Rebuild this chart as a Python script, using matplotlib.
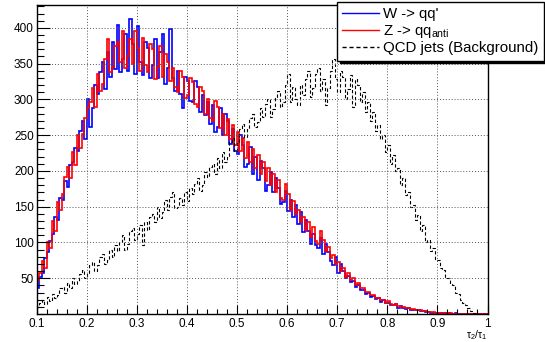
import numpy as np
import matplotlib
matplotlib.use("Agg")
import matplotlib.pyplot as plt
from matplotlib.ticker import MultipleLocator, FixedLocator

plt.rcParams['font.family'] = ['Liberation Sans', 'DejaVu Sans']
plt.rcParams['mathtext.fontset'] = 'custom'
plt.rcParams['mathtext.rm'] = 'Liberation Sans'
plt.rcParams['mathtext.it'] = 'Liberation Sans'

# tau2/tau1 histograms, 180 bins of width 0.005 between 0.1 and 1.0
edges = np.linspace(0.1, 1.0, 181)

w_counts = [
    36, 52, 58, 78, 86, 102, 112, 136, 132, 162,
    160, 186, 178, 208, 212, 232, 228, 256, 270, 244,
    300, 262, 288, 320, 308, 338, 352, 314, 366, 332,
    380, 342, 404, 338, 356, 392, 340, 412, 378, 336,
    402, 352, 334, 380, 372, 330, 348, 384, 330, 366,
    392, 322, 344, 398, 330, 312, 340, 308, 288, 332,
    326, 298, 296, 326, 318, 282, 306, 278, 296, 266,
    292, 254, 262, 288, 250, 280, 270, 238, 258, 228,
    224, 250, 236, 206, 210, 234, 196, 220, 188, 214,
    204, 172, 180, 198, 170, 190, 176, 154, 156, 172,
    144, 160, 136, 152, 126, 142, 114, 132, 116, 98,
    112, 96, 92, 106, 84, 98, 86, 74, 68, 80,
    58, 70, 60, 50, 53, 45, 46, 38, 40, 34,
    33, 28, 29, 24, 25, 21, 22, 17, 19, 15,
    16, 12, 12, 14, 9, 11, 9, 7, 8, 6,
    6, 5, 5, 4, 4, 3, 3, 2, 2, 2,
    2, 1, 1, 1, 1, 0, 0, 1, 0, 0,
    0, 0, 0, 0, 0, 0, 0, 0, 0, 0,
]

z_counts = [
    48, 58, 74, 64, 100, 92, 130, 116, 156, 146,
    168, 192, 206, 190, 226, 208, 250, 232, 252, 274,
    288, 296, 316, 290, 336, 312, 322, 356, 384, 338,
    346, 374, 380, 352, 396, 344, 360, 384, 350, 396,
    372, 340, 386, 348, 338, 378, 370, 328, 346, 374,
    332, 364, 352, 326, 344, 318, 310, 340, 332, 302,
    306, 330, 324, 294, 290, 318, 312, 280, 300, 274,
    270, 298, 290, 260, 280, 250, 272, 244, 264, 236,
    254, 228, 246, 218, 240, 212, 230, 204, 222, 196,
    212, 186, 204, 180, 196, 170, 188, 162, 160, 182,
    168, 146, 158, 140, 146, 128, 136, 118, 128, 108,
    122, 102, 98, 116, 104, 88, 94, 78, 82, 70,
    72, 60, 64, 52, 57, 47, 50, 40, 43, 36,
    37, 31, 31, 27, 27, 23, 23, 19, 20, 16,
    18, 14, 13, 14, 11, 10, 10, 8, 8, 7,
    7, 6, 5, 5, 4, 4, 3, 3, 3, 2,
    2, 1, 1, 1, 1, 1, 0, 0, 0, 0,
    0, 0, 0, 0, 0, 0, 0, 0, 0, 0,
]

qcd_counts = [
    10, 16, 20, 14, 24, 18, 28, 22, 26, 36,
    38, 30, 44, 36, 50, 42, 46, 56, 62, 50,
    58, 68, 72, 60, 68, 80, 84, 70, 76, 90,
    80, 96, 88, 100, 110, 90, 98, 116, 120, 104,
    112, 124, 96, 128, 118, 136, 140, 128, 150, 134,
    142, 160, 146, 164, 170, 148, 150, 162, 152, 170,
    158, 176, 168, 182, 190, 172, 180, 198, 192, 206,
    210, 196, 218, 204, 226, 212, 220, 240, 246, 228,
    240, 258, 266, 248, 258, 274, 280, 262, 268, 288,
    276, 294, 300, 276, 286, 304, 312, 290, 296, 320,
    336, 296, 318, 300, 292, 320, 306, 328, 340, 304,
    316, 336, 344, 312, 328, 292, 316, 340, 356, 328,
    310, 340, 332, 300, 314, 334, 290, 328, 320, 296,
    310, 282, 296, 270, 282, 256, 264, 244, 250, 226,
    236, 210, 222, 200, 204, 180, 190, 166, 170, 150,
    152, 132, 138, 116, 124, 100, 104, 88, 92, 76,
    76, 64, 62, 52, 50, 42, 40, 30, 28, 20,
    16, 12, 8, 4, 2, 1, 0, 0, 0, 0,
]

labels = ["W -> qq'", r"Z -> qq$_{\mathrm{anti}}$", "QCD jets (Background)"]

fig = plt.figure(figsize=(5.45, 3.42), dpi=100)
ax = fig.add_axes([0.067, 0.0819, 0.8275, 0.9035])

ax.stairs(w_counts, edges, color='#0000ff', lw=1.2, label=labels[0])
ax.stairs(z_counts, edges, color='#ff0000', lw=1.2, label=labels[1])
ax.stairs(qcd_counts, edges, color='black', lw=0.8,
          linestyle=(0, (3, 2)), label=labels[2])

ax.set_xlim(0.1, 1.0)
ax.set_ylim(0, 432)

ax.xaxis.set_major_locator(FixedLocator(np.arange(0.1, 1.01, 0.1)))
ax.xaxis.set_minor_locator(MultipleLocator(0.02))
ax.set_xticklabels(['0.1', '0.2', '0.3', '0.4', '0.5', '0.6', '0.7', '0.8', '0.9', '1'])
ax.yaxis.set_major_locator(FixedLocator(np.arange(50, 401, 50)))
ax.yaxis.set_minor_locator(MultipleLocator(10))

ax.tick_params(axis='both', which='both', direction='in', labelsize=8.5,
               top=False, right=False)
ax.tick_params(axis='x', which='major', length=6.7, width=0.8, pad=3)
ax.tick_params(axis='x', which='minor', length=3.3, width=0.8)
ax.tick_params(axis='y', which='major', length=9.7, width=0.8, pad=2)
ax.tick_params(axis='y', which='minor', length=4.9, width=0.8)

ax.grid(True, which='major', color='#555555', linestyle=(0, (1, 2)), lw=0.7)
for s in ax.spines.values():
    s.set_linewidth(1.0)

ax.text(1.0, -0.046, r'$\tau_{2}/\tau_{1}$', transform=ax.transAxes,
        ha='right', va='top', fontsize=7.5)

leg = fig.legend(loc='upper left', bbox_to_anchor=(0.618, 0.994, 0.38, 0.0),
                 mode='expand', borderaxespad=0, fontsize=10.8,
                 handlelength=2.45, handletextpad=0.28, labelspacing=0.1,
                 borderpad=0.35, fancybox=False, framealpha=1,
                 edgecolor='black', shadow={'color': 'black', 'alpha': 1})
leg.get_frame().set_linewidth(1.0)
for line in leg.get_lines():
    line.set_linewidth(1.0)

fig.savefig('out.png', dpi=100)
